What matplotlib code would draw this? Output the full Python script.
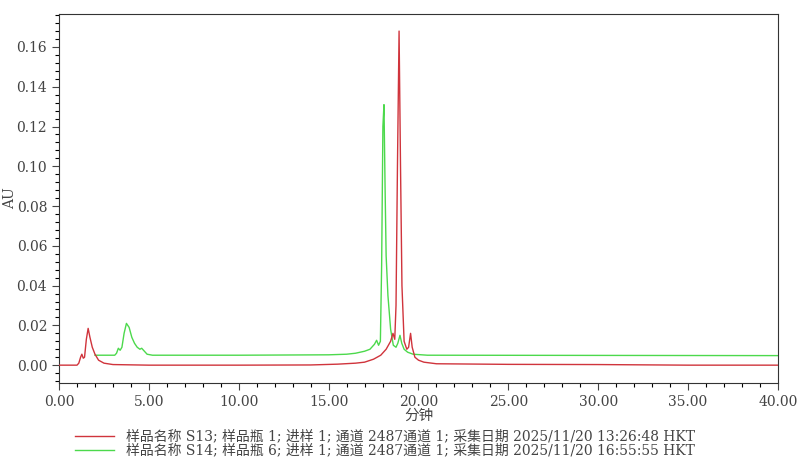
import matplotlib.pyplot as plt
from matplotlib.ticker import MultipleLocator, FormatStrFormatter

# S13 trace (red)
s13_time = [0.0, 1.0, 1.1, 1.2, 1.27, 1.35, 1.42, 1.52, 1.62, 1.72, 1.85, 2.0, 2.2, 2.5, 3.0,
            5.0, 10.0, 14.0, 15.5, 16.5, 17.0, 17.5, 17.9, 18.2, 18.45, 18.58, 18.68, 18.75,
            18.83, 18.92, 19.0, 19.08, 19.2, 19.35, 19.45, 19.56, 19.65, 19.8, 20.0, 20.3,
            21.0, 25.0, 30.0, 35.0, 40.0]
s13_au = [0.0, 0.0, 0.001, 0.004, 0.0055, 0.0035, 0.004, 0.013, 0.0185, 0.014, 0.009, 0.0055,
          0.0025, 0.001, 0.0003, 0.0, 0.0, 0.0001, 0.0005, 0.001, 0.0015, 0.003, 0.005, 0.008,
          0.012, 0.016, 0.013, 0.03, 0.1, 0.168, 0.1, 0.04, 0.012, 0.008, 0.009, 0.016, 0.009,
          0.004, 0.0025, 0.0015, 0.0007, 0.0004, 0.0003, 0.0, 0.0]

# S14 trace (green)
s14_time = [2.0, 3.1, 3.2, 3.3, 3.4, 3.5, 3.62, 3.75, 3.9, 4.05, 4.2, 4.35, 4.5, 4.6, 4.75,
            4.9, 5.2, 10.0, 15.0, 16.0, 16.5, 17.0, 17.3, 17.55, 17.67, 17.78, 17.88, 17.95,
            18.02, 18.08, 18.14, 18.2, 18.3, 18.45, 18.6, 18.75, 18.85, 18.97, 19.07, 19.2,
            19.4, 19.7, 20.5, 40.0]
s14_au = [0.005, 0.005, 0.006, 0.0085, 0.0075, 0.009, 0.016, 0.021, 0.019, 0.014, 0.011, 0.009,
          0.008, 0.0085, 0.007, 0.0055, 0.005, 0.005, 0.0052, 0.0055, 0.006, 0.007, 0.008,
          0.0105, 0.0125, 0.01, 0.012, 0.05, 0.12, 0.131, 0.09, 0.055, 0.035, 0.018, 0.01,
          0.009, 0.011, 0.015, 0.011, 0.008, 0.0065, 0.0055, 0.005, 0.0048]

labels = [
    "样品名称 S13; 样品瓶 1; 进样 1; 通道 2487通道 1; 采集日期 2025/11/20 13:26:48 HKT",
    "样品名称 S14; 样品瓶 6; 进样 1; 通道 2487通道 1; 采集日期 2025/11/20 16:55:55 HKT",
]

plt.rcParams['font.family'] = ['DejaVu Serif', 'Noto Sans CJK SC']

fig = plt.figure(figsize=(8.02, 4.66), dpi=100)
ax = fig.add_axes([0.0736, 0.178, 0.8964, 0.792])

l2, = ax.plot(s14_time, s14_au, color='#4cd94c', linewidth=1.0, zorder=2)
l1, = ax.plot(s13_time, s13_au, color='#d0343c', linewidth=1.0, zorder=3)

ax.set_xlim(0, 40)
ax.set_ylim(-0.009, 0.1766)
ax.xaxis.set_major_locator(MultipleLocator(5))
ax.xaxis.set_minor_locator(MultipleLocator(1))
ax.yaxis.set_major_locator(MultipleLocator(0.02))
ax.yaxis.set_minor_locator(MultipleLocator(0.004))
ax.xaxis.set_major_formatter(FormatStrFormatter('%.2f'))
ax.yaxis.set_major_formatter(FormatStrFormatter('%.2f'))
ax.tick_params(which='major', length=5, width=0.8, labelsize=10, colors='#444444')
ax.tick_params(which='minor', length=3, width=0.8)
for s in ax.spines.values():
    s.set_color('#333333')

ax.set_xlabel("分钟", fontsize=10.5, color='#444444')
ax.xaxis.set_label_coords(0.5, -0.07)
ax.set_ylabel("AU", fontsize=10, color='#444444')
ax.yaxis.set_label_coords(-0.058, 0.5)

fig.legend([l1, l2], labels, loc='upper left', bbox_to_anchor=(0.085, 0.093),
           frameon=False, fontsize=10, handlelength=2.8, handletextpad=0.85,
           labelspacing=0.0, borderpad=0, labelcolor='#444444')

plt.savefig('out.png', dpi=100)
